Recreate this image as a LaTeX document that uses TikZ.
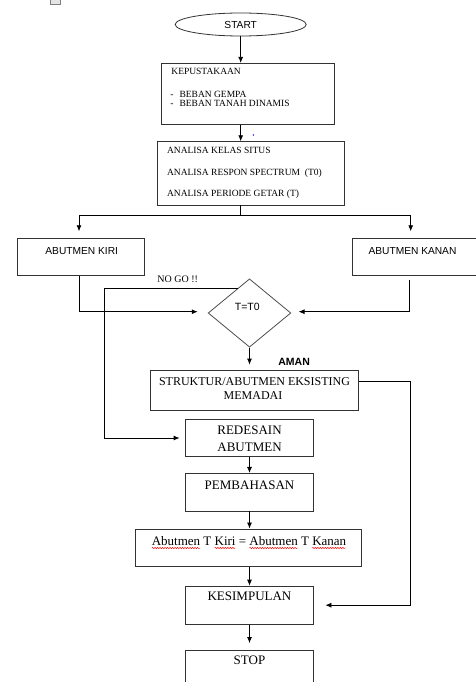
\documentclass[tikz,border=0pt]{standalone}
\usepackage{fontspec}
\setmainfont{Liberation Serif}
\newfontfamily\arial{Liberation Sans}
\usetikzlibrary{arrows.meta}
\usetikzlibrary{shapes.geometric}
\usetikzlibrary{positioning}
\usetikzlibrary{decorations.pathmorphing}
\usetikzlibrary{calc}

\begin{document}
\begin{tikzpicture}[x=1pt, y=-1pt, line width=0.8pt,
    kotak/.style={draw=black!80, rectangle, inner sep=0pt},
    teks/.style={inner sep=0pt, font=\fontsize{9.5}{10}\selectfont},
    besar/.style={inner sep=0pt, font=\fontsize{13}{14}\selectfont},
    sans/.style={inner sep=0pt, font=\arial\fontsize{10.2}{11}\selectfont},
    ejaan/.style={red, line width=0.4pt, decorate, decoration={snake, amplitude=0.7pt, segment length=2.5pt}},
    panah/.style={-{Latex[length=6pt,width=5pt]}}]

  \useasboundingbox (0,0) rectangle (476,682);

  \def\kx{249.5};   % kolom bawah
  \def\lb{127.6};   % lebar kotak kecil

  % sisa gambar di pojok
  \draw[gray, line width=0.5pt, fill=gray!20] (50,-2) rectangle (60,4);

  % bagian atas
  \node[draw=black!80, ellipse, minimum width=131pt, minimum height=23pt, inner sep=0pt] (start) at (240.7,24.5) {};
  \node[sans, anchor=base] at (240.7,28.2) {START};

  \node[kotak, minimum width=172.6pt, minimum height=61pt] (kep) at (248,93.8) {};
  \node[teks, anchor=base west] at (171,75) {KEPUSTAKAAN};
  \node[teks, anchor=base west] at (170,97.1) {-\hspace{6pt}BEBAN GEMPA};
  \node[teks, anchor=base west] at (170,106.4) {-\hspace{6pt}BEBAN TANAH DINAMIS};
  \fill[blue] (253.3,135) circle (0.8pt);

  \node[kotak, minimum width=186.7pt, minimum height=63.3pt] (anal) at (250.7,173.3) {};
  \node[teks, anchor=base west] at (166.7,153.5) {ANALISA KELAS SITUS};
  \node[teks, anchor=base west] at (166.7,175) {ANALISA RESPON SPECTRUM \ (T0)};
  \node[teks, anchor=base west] at (166.7,196) {ANALISA PERIODE GETAR (T)};

  \draw[panah] (start.south) -- (kep.north -| start.south);
  \draw[panah] (kep.south -| start.south) -- (anal.north -| start.south);

  % cabang kiri / kanan
  \node[kotak, minimum width=127pt, minimum height=37.4pt] (kiri) at (80.8,257) {};
  \node[sans, anchor=base] at (81.7,254.4) {ABUTMEN KIRI};
  \node[kotak, minimum width=127pt, minimum height=37.4pt] (kanan) at (416.2,257) {};
  \node[sans, anchor=base] at (412.5,254.4) {ABUTMEN KANAN};

  \coordinate (cab) at (240.7,215);
  \coordinate (ki) at (79,215);
  \coordinate (ka) at (410.7,215);
  \draw (anal.south -| cab) -- (cab);
  \draw (ki) -- (ka);
  \draw[panah, shorten >=6.6pt] (ki) -- (ki |- kiri.north);
  \draw[panah, shorten >=6.6pt] (ka) -- (ka |- kanan.north);

  % cek periode
  \node[draw=black!70, diamond, minimum width=82.7pt, minimum height=68.3pt, inner sep=0pt] (dia) at (\kx,313) {};
  \node[sans, font=\arial\fontsize{10.5}{11}\selectfont, anchor=base] at (247.3,310.6) {T=T0};

  \coordinate (ma) at (79,311.7);
  \coordinate (mb) at (409.3,311.7);
  \draw[panah, shorten >=10pt] (kiri.south -| ma) -- (ma) -- (ma -| dia.west);
  \draw[panah, shorten >=7.3pt] ([yshift=-3.6pt]kanan.south -| mb) -- (mb) -- (mb -| dia.east);

  \node[teks, font=\fontsize{10}{11}\selectfont, anchor=base west] at (157,282.7) {NO GO !!};
  \node[sans, font=\arial\bfseries\fontsize{10.5}{11}\selectfont, anchor=base west] at (278,365) {AMAN};

  % kolom bawah
  \node[kotak, minimum width=207.6pt, minimum height=40pt] (struk) at (254.5,390) {};
  \node[besar, font=\fontsize{12}{13}\selectfont, anchor=base] at (254.5,385) {STRUKTUR/ABUTMEN EKSISTING};
  \node[besar, font=\fontsize{12}{13}\selectfont, anchor=base] at (253,399.3) {MEMADAI};

  \node[kotak, minimum width=\lb pt, minimum height=37.4pt] (redes) at (\kx,438) {};
  \node[besar, anchor=base] at (\kx,434.3) {REDESAIN};
  \node[besar, anchor=base] at (\kx,451) {ABUTMEN};

  \node[kotak, minimum width=\lb pt, minimum height=37.7pt] (pemb) at (\kx,492.2) {};
  \node[besar, anchor=base] at (\kx,489.3) {PEMBAHASAN};

  \node[kotak, minimum width=226pt, minimum height=37.7pt] (abt) at (248,547.8) {};
  \node[besar, anchor=base] at (249,545) {Abutmen T Kiri = Abutmen T Kanan};
  % garis ejaan
  \foreach \a/\b in {151.8/200.2, 214.6/235.5, 249.3/297.7, 312.1/346}
    \draw[ejaan] (\a,548) -- (\b,548);

  \node[kotak, minimum width=\lb pt, minimum height=38.3pt] (kes) at (\kx,605.2) {};
  \node[besar, anchor=base] at (\kx,600) {KESIMPULAN};

  \node[kotak, minimum width=\lb pt, minimum height=38pt] (stop) at (\kx,669) {};
  \node[besar, anchor=base] at (\kx,664.3) {STOP};

  \draw[panah, shorten >=5pt] (dia.south) -- (struk.north -| dia.south);
  \draw[panah] (redes.south) -- (pemb.north);
  \draw[panah] (pemb.south) -- (abt.north -| pemb.south);
  \draw[panah] (abt.south -| kes.north) -- (kes.north);
  \draw[panah, shorten >=6.5pt] (kes.south) -- (stop.north);

  % jalur NO GO dan AMAN
  \coordinate (ng) at (104.3,288.3);
  \draw[panah, shorten >=5.7pt] (dia.115) -- (dia.115 -| ng) -- (ng |- redes.west) -- (redes.west);
  \coordinate (am) at (410,381);
  \draw[panah, shorten >=11.7pt] ([yshift=9pt]struk.east) -- (am) -- (am |- kes.east) -- (kes.east);

\end{tikzpicture}
\end{document}
